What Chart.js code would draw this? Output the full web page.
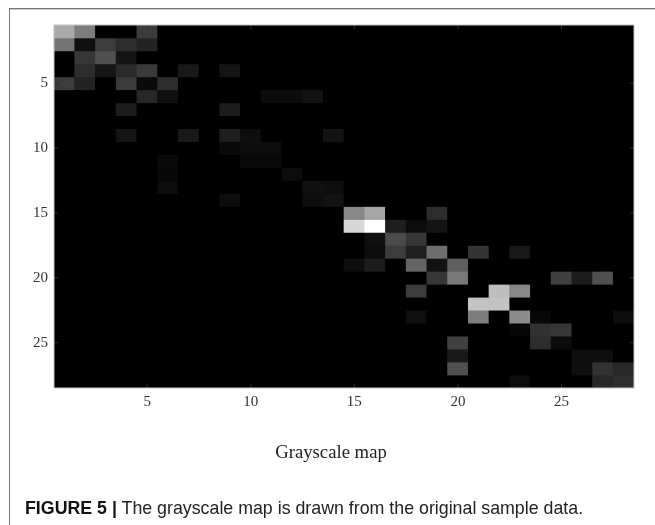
<!DOCTYPE html>
<html>
<head>
<meta charset="utf-8">
<script src="https://cdn.jsdelivr.net/npm/chart.js@4"></script>
<style>
  html, body { margin: 0; padding: 0; background: #fff; overflow: hidden; }
  #wrap { position: absolute; left: 0; top: 0; width: 655px; height: 525px; }
  #rule { position: absolute; left: 9px; top: 8px; width: 646px; height: 517px; border-left: 1px solid #777; border-top: 1px solid #777; box-shadow: inset 0 1px 0 #ccc; }
  #mapTitle { position: absolute; left: 231px; width: 200px; top: 441px; text-align: center; font: 18.7px "Liberation Serif", serif; color: #222; white-space: nowrap; }
  #caption { position: absolute; left: 25px; top: 498px; font: 17.8px "Liberation Sans", Arial, sans-serif; color: #222; white-space: nowrap; }
  #caption b { color: #111; }
</style>
</head>
<body>
<div id="wrap">
  <canvas id="grayChart" width="655" height="525"></canvas>
  <div id="rule"></div>
  <div id="mapTitle">Grayscale map</div>
  <div id="caption"><b>FIGURE 5 |</b> The grayscale map is drawn from the original sample data.</div>
</div>
<script>
  const columns = Array.from({ length: 28 }, (_, i) => String(i + 1));
  const xTickLabels = ['5', '10', '15', '20', '25'];
  const yTickValues = [5, 10, 15, 20, 25];

  // gray level per column, rows 1..28 top to bottom, 0 = black
  const row01 = [170,125,0,0,60,0,0,0,0,0,0,0,0,0,0,0,0,0,0,0,0,0,0,0,0,0,0,0];
  const row02 = [115,15,60,45,35,0,0,0,0,0,0,0,0,0,0,0,0,0,0,0,0,0,0,0,0,0,0,0];
  const row03 = [0,55,80,20,0,0,0,0,0,0,0,0,0,0,0,0,0,0,0,0,0,0,0,0,0,0,0,0];
  const row04 = [0,45,22,42,58,0,25,0,20,0,0,0,0,0,0,0,0,0,0,0,0,0,0,0,0,0,0,0];
  const row05 = [60,35,0,58,10,45,0,0,0,0,0,0,0,0,0,0,0,0,0,0,0,0,0,0,0,0,0,0];
  const row06 = [0,0,0,0,40,15,0,0,0,0,12,12,18,0,0,0,0,0,0,0,0,0,0,0,0,0,0,0];
  const row07 = [0,0,0,28,0,0,0,0,28,0,0,0,0,0,0,0,0,0,0,0,0,0,0,0,0,0,0,0];
  const row08 = [0,0,0,0,0,0,0,0,0,0,0,0,0,0,0,0,0,0,0,0,0,0,0,0,0,0,0,0];
  const row09 = [0,0,0,20,0,0,25,0,30,14,0,0,0,18,0,0,0,0,0,0,0,0,0,0,0,0,0,0];
  const row10 = [0,0,0,0,0,0,0,0,10,12,12,0,0,0,0,0,0,0,0,0,0,0,0,0,0,0,0,0];
  const row11 = [0,0,0,0,0,10,0,0,0,10,10,0,0,0,0,0,0,0,0,0,0,0,0,0,0,0,0,0];
  const row12 = [0,0,0,0,0,8,0,0,0,0,0,12,0,0,0,0,0,0,0,0,0,0,0,0,0,0,0,0];
  const row13 = [0,0,0,0,0,12,0,0,0,0,0,0,16,14,0,0,0,0,0,0,0,0,0,0,0,0,0,0];
  const row14 = [0,0,0,0,0,0,0,0,12,0,0,0,14,18,0,0,0,0,0,0,0,0,0,0,0,0,0,0];
  const row15 = [0,0,0,0,0,0,0,0,0,0,0,0,0,0,135,165,0,0,45,0,0,0,0,0,0,0,0,0];
  const row16 = [0,0,0,0,0,0,0,0,0,0,0,0,0,0,215,255,30,12,20,0,0,0,0,0,0,0,0,0];
  const row17 = [0,0,0,0,0,0,0,0,0,0,0,0,0,0,0,15,75,55,0,0,0,0,0,0,0,0,0,0];
  const row18 = [0,0,0,0,0,0,0,0,0,0,0,0,0,0,0,12,60,32,110,0,52,0,25,0,0,0,0,0];
  const row19 = [0,0,0,0,0,0,0,0,0,0,0,0,0,0,14,28,0,100,18,95,0,0,0,0,0,0,0,0];
  const row20 = [0,0,0,0,0,0,0,0,0,0,0,0,0,0,0,0,0,0,55,120,0,0,0,0,65,28,80,0];
  const row21 = [0,0,0,0,0,0,0,0,0,0,0,0,0,0,0,0,0,60,0,0,0,190,135,0,0,0,0,0];
  const row22 = [0,0,0,0,0,0,0,0,0,0,0,0,0,0,0,0,0,0,0,0,195,195,0,0,0,0,0,0];
  const row23 = [0,0,0,0,0,0,0,0,0,0,0,0,0,0,0,0,0,15,0,0,125,0,140,8,0,0,0,12];
  const row24 = [0,0,0,0,0,0,0,0,0,0,0,0,0,0,0,0,0,0,0,0,0,0,6,50,55,0,0,0];
  const row25 = [0,0,0,0,0,0,0,0,0,0,0,0,0,0,0,0,0,0,0,65,0,0,0,45,12,0,0,0];
  const row26 = [0,0,0,0,0,0,0,0,0,0,0,0,0,0,0,0,0,0,0,25,0,0,0,0,0,14,14,0];
  const row27 = [0,0,0,0,0,0,0,0,0,0,0,0,0,0,0,0,0,0,0,80,0,0,0,0,0,14,50,40];
  const row28 = [0,0,0,0,0,0,0,0,0,0,0,0,0,0,0,0,0,0,0,0,0,0,12,0,0,0,40,45];

  const rows = [row01,row02,row03,row04,row05,row06,row07,row08,row09,row10,row11,row12,row13,row14,
    row15,row16,row17,row18,row19,row20,row21,row22,row23,row24,row25,row26,row27,row28];

  // one floating bar per cell, all in the same column slot
  const datasets = rows.map((levels, r) => ({
    data: levels.map(() => [r + 0.5, r + 1.5]),
    backgroundColor: levels.map(g => `rgb(${g},${g},${g})`),
    borderWidth: 0,
    categoryPercentage: 1,
    barPercentage: 1,
    grouped: false
  }));

  const axisColor = '#c4c4c4';

  const axesBox = {
    id: 'axesBox',
    beforeDatasetsDraw(chart) {
      const { ctx, chartArea: a } = chart;
      ctx.save();
      ctx.fillStyle = '#000';
      ctx.fillRect(a.left, a.top, a.width, a.height);
      ctx.restore();
    },
    afterDatasetsDraw(chart) {
      // inward tick marks on all four sides, plus the box
      const { ctx, chartArea: a, scales } = chart;
      ctx.save();
      ctx.strokeStyle = '#2c2c2c';
      ctx.lineWidth = 1;
      ctx.beginPath();
      xTickLabels.forEach(t => {
        const x = scales.x.getPixelForValue(Number(t) - 1);
        ctx.moveTo(x, a.top); ctx.lineTo(x, a.top + 4);
        ctx.moveTo(x, a.bottom); ctx.lineTo(x, a.bottom - 4);
      });
      yTickValues.forEach(t => {
        const y = scales.y.getPixelForValue(t);
        ctx.moveTo(a.left, y); ctx.lineTo(a.left + 4, y);
        ctx.moveTo(a.right, y); ctx.lineTo(a.right - 4, y);
      });
      ctx.stroke();
      ctx.strokeStyle = axisColor;
      ctx.strokeRect(a.left, a.top, a.width, a.height);
      ctx.restore();
    }
  };

  new Chart(document.getElementById('grayChart'), {
    type: 'bar',
    data: { labels: columns, datasets },
    plugins: [axesBox],
    options: {
      responsive: false,
      animation: false,
      layout: { padding: { top: 25, right: 21, left: 0, bottom: 0 } },
      plugins: { legend: { display: false }, tooltip: { enabled: false } },
      scales: {
        x: {
          grid: { display: false, drawTicks: false },
          border: { display: false },
          afterFit: s => { s.height = 137; },
          ticks: {
            autoSkip: false,
            maxRotation: 0,
            padding: 5,
            color: '#333',
            font: { family: '"Liberation Serif"', size: 15 },
            callback: (v, i) => (xTickLabels.includes(columns[i]) ? columns[i] : '')
          }
        },
        y: {
          min: 0.5,
          max: 28.5,
          reverse: true,
          grid: { display: false, drawTicks: false },
          border: { display: false },
          afterFit: s => { s.width = 54; },
          afterBuildTicks: s => { s.ticks = yTickValues.map(value => ({ value })); },
          ticks: {
            padding: 6,
            color: '#333',
            font: { family: '"Liberation Serif"', size: 15 }
          }
        }
      }
    }
  });
</script>
</body>
</html>
